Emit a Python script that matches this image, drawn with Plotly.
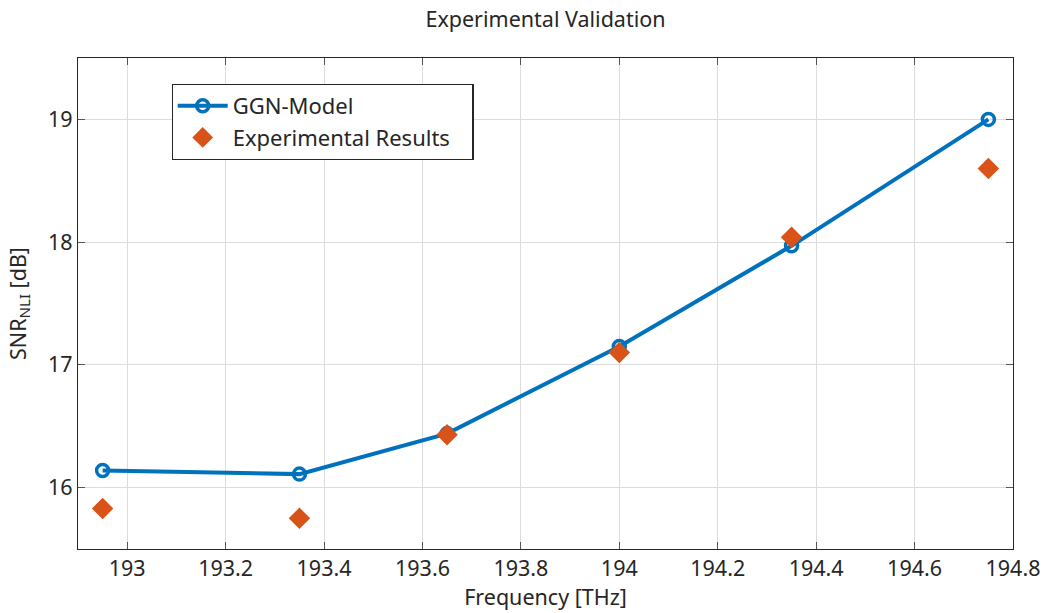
import plotly.graph_objects as go

freq = [192.95, 193.35, 193.65, 194.0, 194.35, 194.75]
ggn_model = [16.14, 16.11, 16.44, 17.15, 17.97, 19.0]
experimental = [15.83, 15.75, 16.43, 17.10, 18.04, 18.60]

x_ticks = [193, 193.2, 193.4, 193.6, 193.8, 194, 194.2, 194.4, 194.6, 194.8]
x_labels = ["193", "193.2", "193.4", "193.6", "193.8", "194", "194.2", "194.4", "194.6", "194.8"]
y_ticks = [16, 17, 18, 19]

BLUE = "#0072BD"
ORANGE = "#D95319"
FONT = "Noto Sans"
TXT = "#262626"
FS = 21.5

fig = go.Figure()
fig.add_trace(go.Scatter(
    x=freq, y=ggn_model, mode="lines+markers", name="GGN-Model",
    line=dict(color=BLUE, width=4),
    marker=dict(symbol="circle-open", size=12, color=BLUE, line=dict(width=3.5, color=BLUE)),
))
fig.add_trace(go.Scatter(
    x=freq, y=experimental, mode="markers", name="Experimental Results\u00a0\u00a0\u00a0",
    marker=dict(symbol="diamond", size=16.5, color=ORANGE, line=dict(width=0)),
))

axis_common = dict(
    showline=True, linecolor=TXT, linewidth=1.3, mirror="allticks",
    ticks="inside", ticklen=7, tickcolor="#555555",
    showgrid=True, gridcolor="#dcdcdc", gridwidth=1.3, zeroline=False,
    automargin=False,
    tickfont=dict(family=FONT, size=FS, color=TXT),
)

fig.update_layout(
    width=1047, height=613,
    margin=dict(l=77.5, r=33.5, t=57.5, b=64),
    paper_bgcolor="white", plot_bgcolor="white",
    font=dict(family=FONT, color=TXT),
    title=dict(text="Experimental Validation", x=0.521, xanchor="center", y=0.968, yanchor="middle",
               font=dict(family=FONT, size=FS, color=TXT)),
    xaxis=dict(range=[192.9, 194.8], tickvals=x_ticks, ticktext=x_labels,
               title=dict(text="Frequency [THz]", font=dict(family=FONT, size=FS, color=TXT), standoff=4),
               **axis_common),
    yaxis=dict(range=[15.5, 19.5], tickvals=y_ticks,
               title=dict(text="SNR<sub>NLI</sub> [dB]", font=dict(family=FONT, size=FS, color=TXT), standoff=15),
               **axis_common),
    legend=dict(x=0.1, y=0.9475, xanchor="left", yanchor="top",
                bgcolor="white", bordercolor=TXT, borderwidth=1.2,
                font=dict(family=FONT, size=22, color=TXT),
                itemwidth=50, tracegroupgap=0),
    showlegend=True,
)

fig.write_html("out.html", config={"displayModeBar": False},
               post_script="document.body.style.margin='0';document.body.style.padding='0';")
